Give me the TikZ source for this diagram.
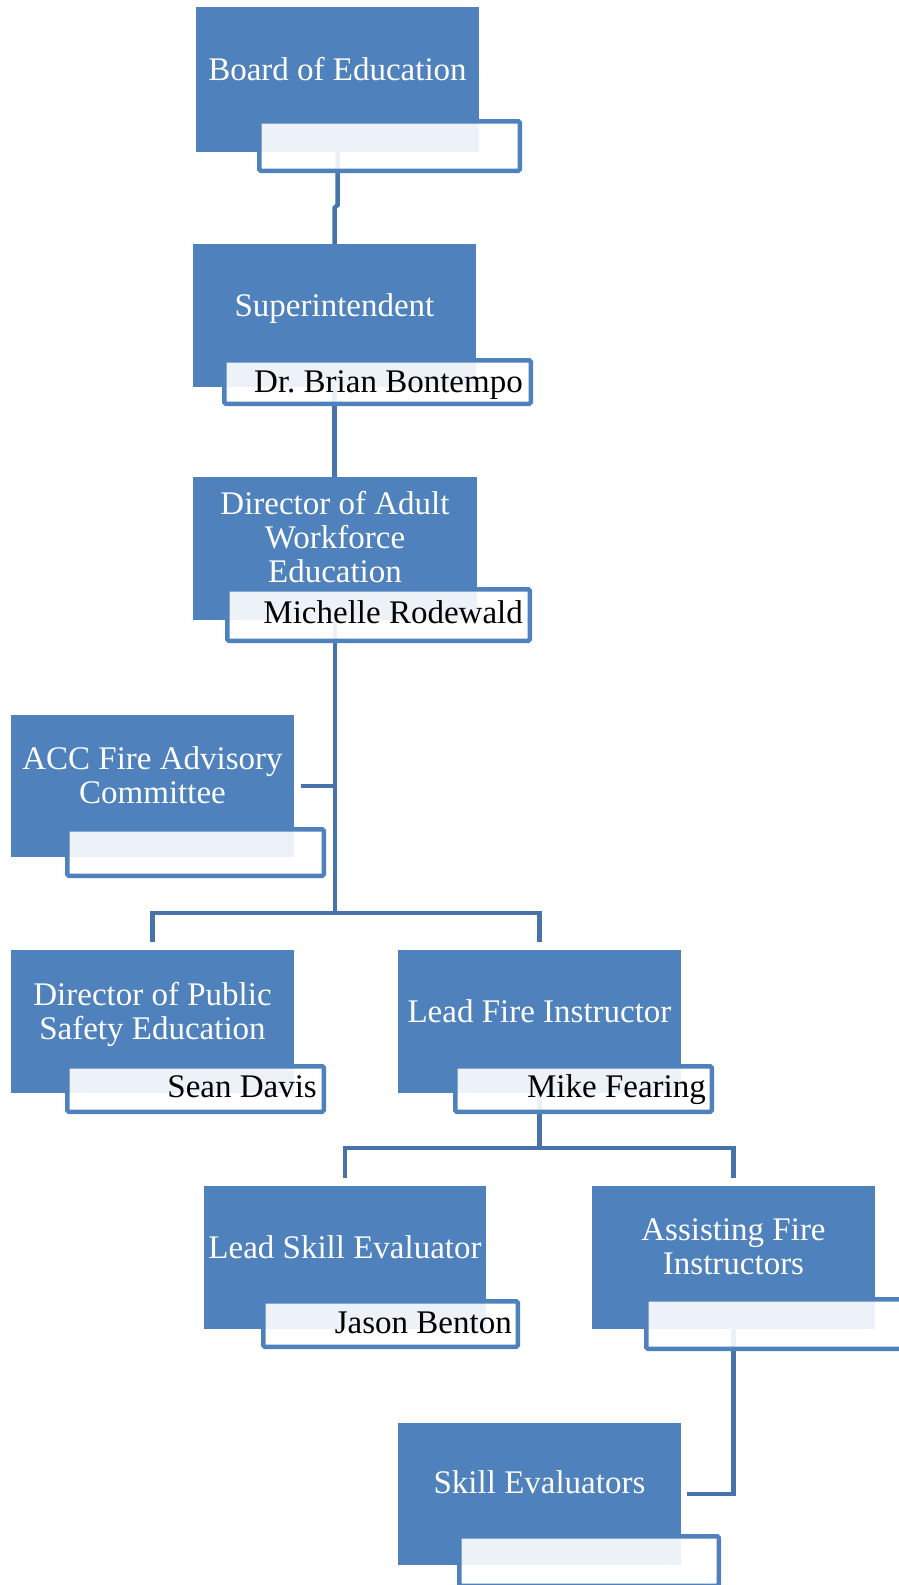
\documentclass[tikz,border=0pt]{standalone}
\usepackage{fontspec}
\setmainfont{Liberation Serif}
\frenchspacing
\definecolor{boxblue}{HTML}{4F81BD}
\definecolor{connblue}{RGB}{71,115,170}
\definecolor{nameborder}{HTML}{4F81BD}
\pgfdeclarelayer{bottom}
\pgfdeclarelayer{background}
\pgfsetlayers{bottom,background,main}
\tikzset{
  mainbox/.style={fill=boxblue, draw=none, inner sep=0pt},
  namebox/.style={fill=white, fill opacity=0.9, draw=nameborder, draw opacity=1, line width=4.5pt, rounded corners=1.5pt, inner sep=0pt},
  titletext/.style={text=white, font=\fontsize{33}{34}\selectfont, align=center, inner sep=0pt, anchor=base},
  nametext/.style={text=black, font=\fontsize{33}{34}\selectfont, inner sep=0pt, anchor=base east},
  conn/.style={draw=connblue, line width=4.5pt},
}
\begin{document}
\begin{tikzpicture}[x=1pt, y=-1pt]
\useasboundingbox (0,0) rectangle (899,1585);
\clip (0,0) rectangle (899,1585);
\begin{pgfonlayer}{bottom}
\fill[white] (0,0) rectangle (899,1585);
\end{pgfonlayer}

% main boxes
\node[mainbox, minimum width=283pt, minimum height=145pt] (b1) at (337.5,79.5) {};
\node[mainbox, minimum width=283pt, minimum height=143pt] (b2) at (334.5,315.5) {};
\node[mainbox, minimum width=284pt, minimum height=143pt] (b3) at (335,548.5) {};
\node[mainbox, minimum width=283pt, minimum height=142pt] (b4) at (152.5,786) {};
\node[mainbox, minimum width=283pt, minimum height=143pt] (b5) at (152.5,1021.5) {};
\node[mainbox, minimum width=283pt, minimum height=143pt] (b6) at (539.5,1021.5) {};
\node[mainbox, minimum width=282pt, minimum height=143pt] (b7) at (345,1257.5) {};
\node[mainbox, minimum width=283pt, minimum height=143pt] (b8) at (733.5,1257.5) {};
\node[mainbox, minimum width=283pt, minimum height=142pt] (b9) at (539.5,1494) {};

% titles (base anchor = baseline of last line)
\node[titletext] (t1) at (337.5,80) {Board of Education};
\node[titletext] (t2) at (334.5,316) {Superintendent};
\node[titletext] (t3) at (335,582) {Director of Adult\\Workforce\\Education};
\node[titletext] (t4) at (152.5,803) {ACC Fire Advisory\\Committee};
\node[titletext] (t5) at (152.5,1039) {Director of Public\\Safety Education};
\node[titletext] (t6) at (539.5,1022) {Lead Fire Instructor};
\node[titletext] (t7) at (345,1258) {Lead Skill Evaluator};
\node[titletext] (t8) at (733.5,1274) {Assisting Fire\\Instructors};
\node[titletext] (t9) at (539.5,1493) {Skill Evaluators};

% name boxes
\node[namebox, minimum width=260.5pt, minimum height=49.5pt] (n1) at (389.5,146) {};
\node[namebox, minimum width=306.5pt, minimum height=43.5pt] (n2) at (377.5,382) {};
\node[namebox, minimum width=302.5pt, minimum height=51.5pt] (n3) at (378.5,615) {};
\node[namebox, minimum width=256.5pt, minimum height=46.5pt] (n4) at (195.5,852.5) {};
\node[namebox, minimum width=256.5pt, minimum height=45.5pt] (n5) at (195.5,1089) {};
\node[namebox, minimum width=256.5pt, minimum height=45.5pt] (n6) at (583.5,1089) {};
\node[namebox, minimum width=254.5pt, minimum height=45.5pt] (n7) at (390.5,1324) {};
\node[namebox, minimum width=256.5pt, minimum height=49.5pt] (n8) at (774.5,1324) {};
\node[namebox, minimum width=259.5pt, minimum height=49.5pt] (n9) at (589,1561) {};

% names
\node[nametext] (m2) at (523,392) {Dr. Brian Bontempo};
\node[nametext] (m3) at (523,623) {Michelle Rodewald};
\node[nametext] (m5) at (317,1097) {Sean Davis};
\node[nametext] (m6) at (706,1097) {Mike Fearing};
\node[nametext] (m7) at (512,1333) {Jason Benton};

% connectors
\coordinate (j1) at (0,205);
\coordinate (j2) at (0,208);
\coordinate (bar1) at (0,913);
\coordinate (drop1) at (0,942);
\coordinate (bar2) at (0,1148);
\coordinate (drop2) at (0,1178);
\begin{pgfonlayer}{background}
\draw[conn] (b1.center |- n1.center) -- (b1.center |- j1) -- (b2.north |- j2) -- (b2.north);
\draw[conn] (b2.center |- n2.center) -- (b2.center |- b3.north);
\draw[conn] (b3.center |- n3.center) -- (b3.center |- bar1);
\draw[conn] (b3.center |- b4.east) -- ([xshift=7pt]b4.east);
\draw[conn] (b5.center |- drop1) -- (b5.center |- bar1) -- (b6.center |- bar1) -- (b6.center |- drop1);
\draw[conn] (b6.center |- n6.center) -- (b6.center |- bar2);
\draw[conn] (b7.center |- drop2) -- (b7.center |- bar2) -- (b8.center |- bar2) -- (b8.center |- drop2);
\draw[conn] (b8.center |- n8.center) -- (b8.center |- b9.center) -- ([xshift=6pt]b9.east);
\end{pgfonlayer}
\end{tikzpicture}
\end{document}
